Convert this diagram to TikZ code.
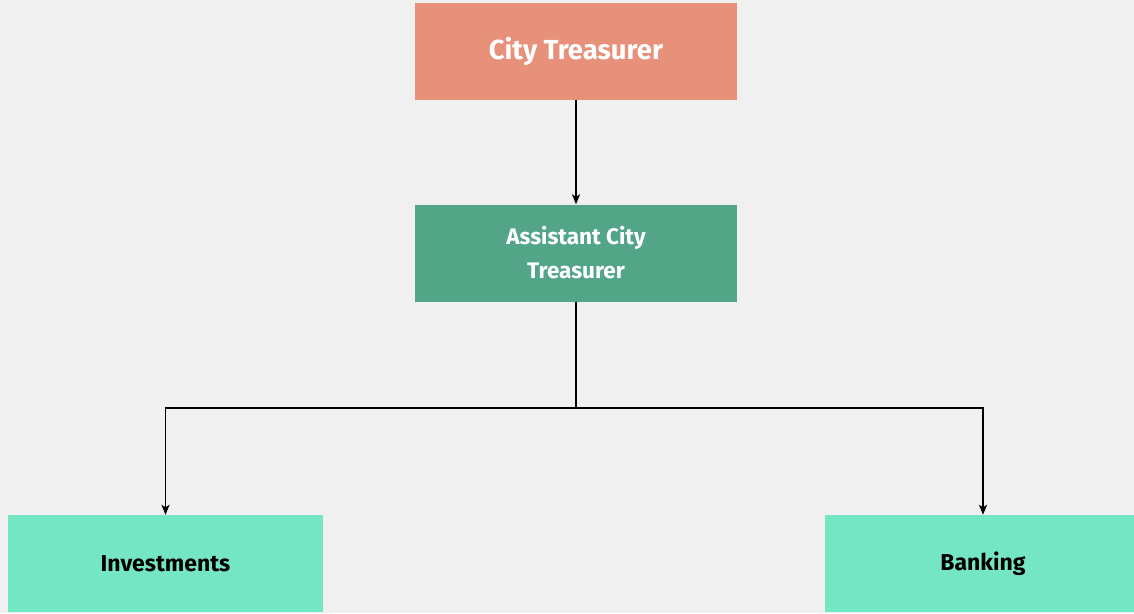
\documentclass[tikz,border=0pt]{standalone}
\usepackage{fontspec}
\setmainfont{Fira Sans}
\usepackage{xcolor}
\usetikzlibrary{arrows.meta}

\definecolor{bgcol}{HTML}{F0F0F0}
\definecolor{headcol}{HTML}{E8917A}
\definecolor{assistcol}{HTML}{52A587}
\definecolor{unitcol}{HTML}{75E6C3}

\begin{document}
\begin{tikzpicture}[x=1pt,y=-1pt]
        \clip (0,0) rectangle (1134,613);
        \fill[bgcol] (0,0) rectangle (1134,613);
        \begin{scope}[every node/.style={rectangle,inner sep=0pt,minimum height=97pt,font=\bfseries,align=center}]
          \node[fill=headcol,text=white,minimum width=322pt,font=\bfseries\fontsize{27.5}{32}\selectfont] (treas) at (576,51) {City Treasurer};
          \node[fill=assistcol,text=white,minimum width=322pt,font=\bfseries\fontsize{22.5}{34}\selectfont] (assist) at (576,253) {Assistant City\\Treasurer};
          \node[fill=unitcol,text=black,minimum width=315pt,font=\bfseries\fontsize{23}{27}\selectfont] (invest) at (165.5,563.5) {Investments};
          \node[fill=unitcol,text=black,minimum width=316pt,font=\bfseries\fontsize{23}{27}\selectfont] (bank) at (983,563.5) {Banking};
        \end{scope}
        \coordinate (bus) at (576,408);
        \begin{scope}[every path/.style={draw=black,line width=1.6pt,-{Stealth[length=10pt,width=8pt,inset=2.5pt]}}]
          \path (treas) -- (assist);
          \path (assist.south) |- (bus) -| (invest.north);
          \path (assist.south) |- (bus) -| (bank.north);
        \end{scope}
      \end{tikzpicture}
\end{document}
